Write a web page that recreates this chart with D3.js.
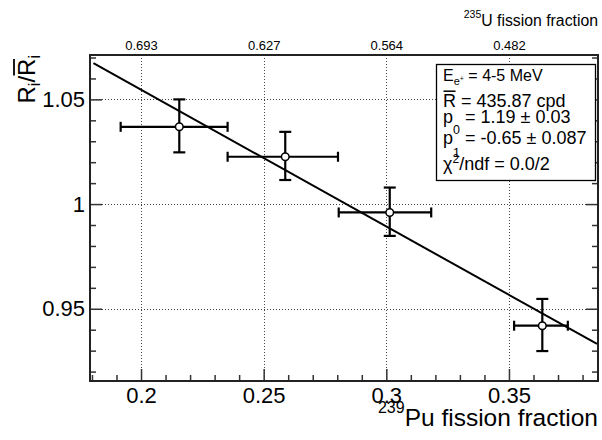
<!DOCTYPE html>
<html>
<head>
<meta charset="utf-8">
<script src="https://cdn.jsdelivr.net/npm/d3@7"></script>
<style>
body{margin:0;background:#fff;}
text{font-family:"Liberation Sans",Arial,Helvetica,sans-serif;fill:#000;}
</style>
</head>
<body>
<svg id="chart" width="602" height="440"></svg>
<script>
// measured points: 239Pu fission fraction vs normalised rate
const puFrac=[0.2156,0.2588,0.3014,0.3636];
const ratio=[1.0369,1.0226,0.9960,0.9419];
const xErrLo=[0.0239,0.0235,0.0208,0.0115];
const xErrHi=[0.0197,0.0215,0.0169,0.0104];
const yErrUp=[0.0131,0.0119,0.0119,0.0128];
const yErrDn=[0.0122,0.0111,0.0112,0.0121];

const xMajor=[0.2,0.25,0.3,0.35];
const yMajor=[0.95,1,1.05];
const u235Labels=["0.693","0.627","0.564","0.482"];

// fitted line as drawn (p0 + p1*x)
const fitP0=1.1852, fitP1=-0.653;
const fitRange=[0.1806,0.3859];

const statLines=[
  [{t:"E"},{t:"e",s:"sub"},{t:"+",s:"supsub"},{t:" = 4-5 MeV"}],
  [{t:"R",bar:true},{t:" = 435.87 cpd"}],
  [{t:"p"},{t:"0",s:"sub"},{t:" = 1.19 \u00b1 0.03"}],
  [{t:"p"},{t:"1",s:"sub"},{t:" = -0.65 \u00b1 0.087"}],
  [{t:"\u03c7"},{t:"2",s:"sup"},{t:"/ndf = 0.0/2"}]
];
const statBase=[80.7,106.7,123.3,144.3,170];
const statSize=[16,18,18,18,18];

const margin={top:55,right:4,bottom:59,left:90};
const W=602,H=440;
const svg=d3.select("#chart");

const x=d3.scaleLinear().domain([0.1792,0.3863]).range([margin.left,W-margin.right]);
const y=d3.scaleLinear().domain([0.9155,1.0712]).range([H-margin.bottom,margin.top]);
const x0=x.range()[0],x1=x.range()[1],yb=y.range()[0],yt=y.range()[1];

// grid
const grid=svg.append("g").attr("stroke","#444").attr("stroke-width",1).attr("stroke-dasharray","1,2");
grid.selectAll("line.vg").data(xMajor).join("line").attr("class","vg")
  .attr("x1",d=>Math.round(x(d))+0.5).attr("x2",d=>Math.round(x(d))+0.5).attr("y1",yt).attr("y2",yb);
grid.selectAll("line.hg").data(yMajor).join("line").attr("class","hg")
  .attr("y1",d=>Math.round(y(d))+0.5).attr("y2",d=>Math.round(y(d))+0.5).attr("x1",x0).attr("x2",x1);

const xMinor=d3.range(18,39).map(v=>v/100).filter(v=>!xMajor.some(m=>Math.abs(m-v)<1e-6));
const yMinor=d3.range(92,108).map(v=>v/100).filter(v=>!yMajor.some(m=>Math.abs(m-v)<1e-6));
const fmtNum=d=>String(+d.toFixed(2));

function styleAxis(g){
  g.select(".domain").remove();
  g.selectAll(".tick line").attr("stroke","#333").attr("stroke-width",1.5);
  g.selectAll("text").style("font-size","22px").attr("fill","#000");
}

// bottom axis
svg.append("g").attr("transform",`translate(0,${yb})`)
  .call(d3.axisBottom(x).tickValues(xMajor).tickSizeInner(-12).tickPadding(6).tickFormat(fmtNum)).call(styleAxis);
svg.append("g").attr("transform",`translate(0,${yb})`)
  .call(d3.axisBottom(x).tickValues(xMinor).tickSizeInner(-6).tickFormat("")).call(styleAxis);
// left axis
svg.append("g").attr("transform",`translate(${x0},0)`)
  .call(d3.axisLeft(y).tickValues(yMajor).tickSizeInner(-12).tickPadding(5).tickFormat(fmtNum)).call(styleAxis);
svg.append("g").attr("transform",`translate(${x0},0)`)
  .call(d3.axisLeft(y).tickValues(yMinor).tickSizeInner(-6).tickFormat("")).call(styleAxis);
// right axis ticks
svg.append("g").attr("transform",`translate(${x1},0)`)
  .call(d3.axisRight(y).tickValues(yMajor).tickSizeInner(-12).tickFormat("")).call(styleAxis);
svg.append("g").attr("transform",`translate(${x1},0)`)
  .call(d3.axisRight(y).tickValues(yMinor).tickSizeInner(-6).tickFormat("")).call(styleAxis);
// top axis: 235U fractions
const topAxis=svg.append("g").attr("transform",`translate(0,${yt})`)
  .call(d3.axisTop(x).tickValues(xMajor).tickSize(0).tickPadding(5).tickFormat((d,i)=>u235Labels[i]));
topAxis.select(".domain").remove();
topAxis.selectAll("text").style("font-size","13px").attr("fill","#000");

// frame
svg.append("rect").attr("x",x0).attr("y",yt).attr("width",x1-x0).attr("height",yb-yt)
  .attr("fill","none").attr("stroke","#222").attr("stroke-width",2);

// fit line
svg.append("line")
  .attr("x1",x(fitRange[0])).attr("y1",y(fitP0+fitP1*fitRange[0]))
  .attr("x2",x(fitRange[1])).attr("y2",y(fitP0+fitP1*fitRange[1]))
  .attr("stroke","#000").attr("stroke-width",2);

// points with error bars
const pts=puFrac.map((v,i)=>({x:v,y:ratio[i],xl:xErrLo[i],xh:xErrHi[i],yu:yErrUp[i],yd:yErrDn[i]}));
const eb=svg.append("g").attr("stroke","#000").attr("stroke-width",2.2);
pts.forEach(p=>{
  const cx=x(p.x),cy=y(p.y);
  eb.append("line").attr("x1",x(p.x-p.xl)).attr("x2",x(p.x+p.xh)).attr("y1",cy).attr("y2",cy);
  eb.append("line").attr("x1",cx).attr("x2",cx).attr("y1",y(p.y+p.yu)).attr("y2",y(p.y-p.yd));
  [p.x-p.xl,p.x+p.xh].forEach(v=>eb.append("line").attr("x1",x(v)).attr("x2",x(v)).attr("y1",cy-5).attr("y2",cy+5));
  [p.y+p.yu,p.y-p.yd].forEach(v=>eb.append("line").attr("x1",cx-6).attr("x2",cx+6).attr("y1",y(v)).attr("y2",y(v)));
});
svg.append("g").selectAll("circle").data(pts).join("circle")
  .attr("cx",d=>x(d.x)).attr("cy",d=>y(d.y)).attr("r",3.8)
  .attr("fill","#fff").attr("stroke","#000").attr("stroke-width",1.5);

// stats box
svg.append("rect").attr("x",436.5).attr("y",64.5).attr("width",159).attr("height",116)
  .attr("fill","#fff").attr("stroke","#000").attr("stroke-width",1.3);
statLines.forEach((segs,li)=>{
  const t=svg.append("text").attr("x",443).attr("y",statBase[li]).style("font-size",statSize[li]+"px");
  let shift=0;
  segs.forEach(s=>{
    const ts=t.append("tspan").text(s.t);
    let target=0;
    if(s.s==="sub"){ts.style("font-size",li===0?"11px":"12.5px");target=li===0?4:(li===2?10.5:12.5);}
    else if(s.s==="supsub"){ts.style("font-size","7px");target=0;}
    else if(s.s==="sup"){ts.style("font-size","12px");target=-7;}
    ts.attr("dy",target-shift);shift=target;
  });
  segs.forEach(s=>{
    if(!s.bar)return;
    const ext=t.node().getExtentOfChar(0);
    svg.append("line").attr("x1",ext.x+0.5).attr("x2",ext.x+ext.width-0.5)
      .attr("y1",statBase[li]-15.5).attr("y2",statBase[li]-15.5).attr("stroke","#000").attr("stroke-width",1.5);
  });
});

// y title R_i / Rbar_i
const yg=svg.append("g").attr("transform",`translate(35,${yt}) rotate(-90)`);
const yTitle=yg.append("text").attr("x",0).attr("y",0).style("font-size","24px");
yTitle.append("tspan").text("R");
yTitle.append("tspan").text("i").style("font-size","16px").attr("dy",5);
yTitle.append("tspan").text("/").attr("dy",-5);
yTitle.append("tspan").text("R");
yTitle.append("tspan").text("i").style("font-size","16px").attr("dy",5);
const ylen=yTitle.node().getComputedTextLength();
yTitle.attr("x",-ylen);
{
  const e=yTitle.node().getExtentOfChar(3);
  yg.append("line").attr("x1",e.x+0.5).attr("x2",e.x+e.width-0.5).attr("y1",-21).attr("y2",-21)
    .attr("stroke","#000").attr("stroke-width",1.8);
}

// x title
const xt=svg.append("text").attr("x",x1).attr("y",426).attr("text-anchor","end").style("font-size","24.5px");
xt.append("tspan").text("239").style("font-size","16px").attr("dy",-13);
xt.append("tspan").text("Pu fission fraction").attr("dy",13);

// top title
const tt=svg.append("text").attr("x",x1).attr("y",25.5).attr("text-anchor","end").style("font-size","15.8px");
tt.append("tspan").text("235").style("font-size","10.5px").attr("dy",-8);
tt.append("tspan").text("U fission fraction").attr("dy",8);
</script>
</body>
</html>
